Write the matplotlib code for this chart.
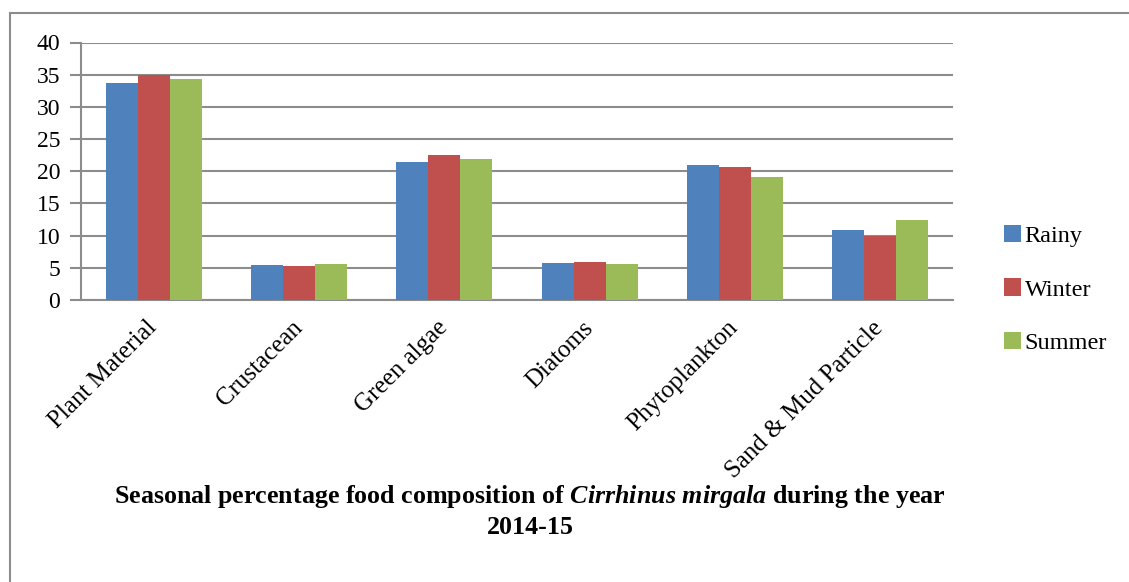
import matplotlib
matplotlib.use("Agg")
import matplotlib.pyplot as plt
import matplotlib.transforms as mtransforms
import numpy as np
from matplotlib.patches import Rectangle

categories = ["Plant Material", "Crustacean", "Green algae", "Diatoms", "Phytoplankton", "Sand & Mud Particle"]
rainy = [33.7, 5.4, 21.4, 5.7, 20.9, 10.9]
winter = [35.0, 5.3, 22.6, 5.9, 20.6, 10.0]
summer = [34.3, 5.6, 21.9, 5.6, 19.1, 12.4]
series_names = ["Rainy", "Winter", "Summer"]
colors = ["#4F81BD", "#C0504D", "#9BBB59"]
yticks = [0, 5, 10, 15, 20, 25, 30, 35, 40]

plt.rcParams['font.family'] = ['Liberation Serif', 'DejaVu Serif']
plt.rcParams['mathtext.fontset'] = 'custom'
plt.rcParams['mathtext.it'] = 'Liberation Serif:italic:bold'
plt.rcParams['mathtext.rm'] = 'Liberation Serif:bold'

fig = plt.figure(figsize=(11.29, 5.82), dpi=100)
ax = fig.add_axes([81/1129, 1-300/582, (953-81)/1129, (300-42.5)/582])

x = np.arange(len(categories))
w = 0.22
for i, (vals, name, c) in enumerate(zip([rainy, winter, summer], series_names, colors)):
    ax.bar(x + (i-1)*w, vals, width=w, color=c, label=name, zorder=3, edgecolor='none')

ax.set_xlim(-0.5, len(categories)-0.5)
ax.set_ylim(0, 40)
ax.set_yticks(yticks)
ax.set_yticklabels([str(t) for t in yticks], fontsize=17)
ax.yaxis.grid(True, color='#8c8c8c', linewidth=1.5, zorder=0)
ax.set_axisbelow(True)
ax.set_xticks(x)
ax.set_xticklabels(categories, rotation=45, ha='right', rotation_mode='anchor', fontsize=18)
ax.tick_params(axis='x', length=0, pad=12)
ax.tick_params(axis='y', length=8, color='#8c8c8c', width=1.5, pad=7)
off = mtransforms.ScaledTranslation(-8/100, 0, fig.dpi_scale_trans)
for lbl in ax.get_xticklabels():
    lbl.set_transform(lbl.get_transform() + off)
for s in ['top', 'right']:
    ax.spines[s].set_visible(False)
for s in ['left', 'bottom']:
    ax.spines[s].set_color('#8c8c8c')
    ax.spines[s].set_linewidth(1.5)

leg = fig.legend(loc='upper left', bbox_to_anchor=(982/1129, 1-203/582), frameon=False,
                 fontsize=17.5, handlelength=0.7, handleheight=0.7, handletextpad=0.15,
                 labelspacing=1.3)

fig.text(530/1129, 1-496/582, r"Seasonal percentage food composition of $Cirrhinus\ mirgala$ during the year",
         ha='center', va='center', fontsize=18.7, fontweight='bold')
fig.text(530/1129, 1-527/582, "2014-15", ha='center', va='center', fontsize=18.7, fontweight='bold')

# outer frame
fig.patches.append(Rectangle((10/1129, -0.1), 1.2, 1.1 - 13/582, transform=fig.transFigure,
                             fill=False, edgecolor='#8c8c8c', linewidth=1.5))

fig.savefig("out.png", dpi=100)
